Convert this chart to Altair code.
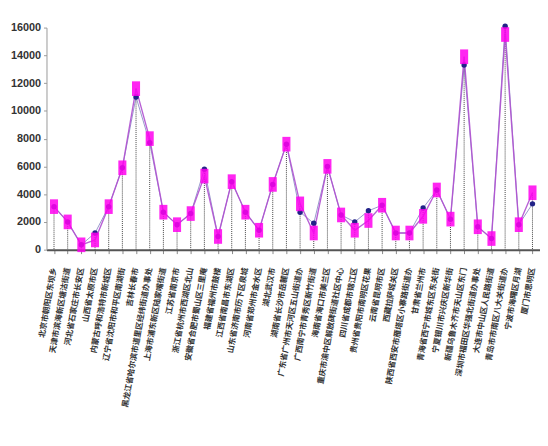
import altair as alt
import pandas as pd

labels = [
    "北京市朝阳区东坝乡", "天津市滨海新区塘沽街道", "河北省石家庄市长安区", "山西省太原市区",
    "内蒙古呼和浩特市新城区", "辽宁省沈阳市和平区南湖街", "吉林长春市",
    "黑龙江省哈尔滨市道里区经纬街道办事处", "上海市浦东新区陆家嘴街道", "江苏省南京市",
    "浙江省杭州市西湖区北山", "安徽省合肥市蜀山区三里庵", "福建省福州市鼓楼", "江西省南昌市东湖区",
    "山东省济南市历下区泉城", "河南省郑州市金水区", "湖北武汉市", "湖南省长沙市岳麓区",
    "广东省广州市天河区五山街道办", "广西南宁市青秀区新竹街道", "海南省海口市美兰区",
    "重庆市渝中区解放碑街道社区中心", "四川省成都市锦江区", "贵州省贵阳市南明区花果",
    "云南省昆明市区", "西藏拉萨城关区", "陕西省西安市雁塔区小寨路街道办", "甘肃省兰州市",
    "青海省西宁市城东区东关街", "宁夏银川市兴庆区新华街", "新疆乌鲁木齐市天山区东门",
    "深圳市福田区华强北街道办事处", "大连市中山区人民路街道", "青岛市市南区八大关街道办",
    "宁波市海曙区月湖", "厦门市思明区",
]

pink_values = [3100, 2000, 350, 700, 3100, 5900, 11600, 8000, 2700, 1800, 2600, 5300,
               950, 4900, 2700, 1400, 4700, 7600, 3300, 1200, 6000, 2500, 1400, 2100,
               3200, 1200, 1200, 2400, 4300, 2200, 13900, 1650, 800, 15500, 1800, 4100]

navy_values = [3100, 2000, 350, 1200, 3100, 5900, 11000, 7700, 2700, 1800, 2600, 5800,
               950, 4900, 2700, 1400, 4700, 7600, 2700, 1900, 6000, 2500, 2000, 2800,
               3200, 1200, 1200, 3000, 4300, 2200, 13300, 1650, 800, 16100, 1800, 3300]

y_ticks = [0, 2000, 4000, 6000, 8000, 10000, 12000, 14000, 16000]

df = pd.DataFrame({"label": labels, "pink": pink_values, "navy": navy_values})
df["top"] = df[["pink", "navy"]].max(axis=1)

x_enc = alt.X(
    "label:N",
    sort=labels,
    scale=alt.Scale(type="point", padding=0.55),
    axis=alt.Axis(
        title=None,
        labelAngle=-80,
        labelFont="Noto Sans CJK SC",
        labelFontSize=8,
        labelFontWeight="bold",
        labelColor="#333333",
        labelOverlap=False,
        labelLimit=300,
        labelPadding=14,
        domainColor="#555555",
        domainWidth=2,
        tickColor="#888888",
        tickSize=4,
    ),
)

y_scale = alt.Scale(domain=[0, 16000], nice=False)
y_axis = alt.Axis(
    title=None,
    values=y_ticks,
    format="d",
    grid=False,
    labelFont="Liberation Sans",
    labelFontWeight="bold",
    labelFontSize=11,
    labelColor="#333333",
    domainColor="#999999",
    tickColor="#999999",
    tickSize=3,
    labelPadding=3,
)

base = alt.Chart(df).encode(x=x_enc)

rules = base.mark_rule(color="#444444", strokeDash=[1, 1], strokeWidth=1).encode(
    y=alt.Y("top:Q", scale=y_scale, axis=y_axis),
    y2=alt.datum(0),
)

navy_line = base.mark_line(color="#333399", strokeWidth=1, opacity=0.5).encode(
    y=alt.Y("navy:Q", scale=y_scale, axis=y_axis)
)
pink_line = base.mark_line(color="#b050d0", strokeWidth=1.4, opacity=0.9).encode(
    y=alt.Y("pink:Q", scale=y_scale, axis=y_axis)
)
navy_pts = base.mark_point(filled=True, shape="circle", size=30, color="#222288", opacity=1).encode(
    y=alt.Y("navy:Q", scale=y_scale, axis=y_axis)
)
pink_pts = base.mark_point(
    filled=True, shape="M-0.55,-1L0.55,-1L0.55,1L-0.55,1Z", size=220, color="#ff00ee", opacity=0.85
).encode(y=alt.Y("pink:Q", scale=y_scale, axis=y_axis))

chart = (
    alt.layer(rules, navy_line, pink_line, navy_pts, pink_pts)
    .properties(
        width=500,
        height=225,
        autosize=alt.AutoSizeParams(type="none"),
        padding={"left": 39, "top": 17, "right": 0, "bottom": 190},
    )
    .configure_view(stroke=None)
)

chart.save("out.html", embed_options={"renderer": "svg", "actions": False})
